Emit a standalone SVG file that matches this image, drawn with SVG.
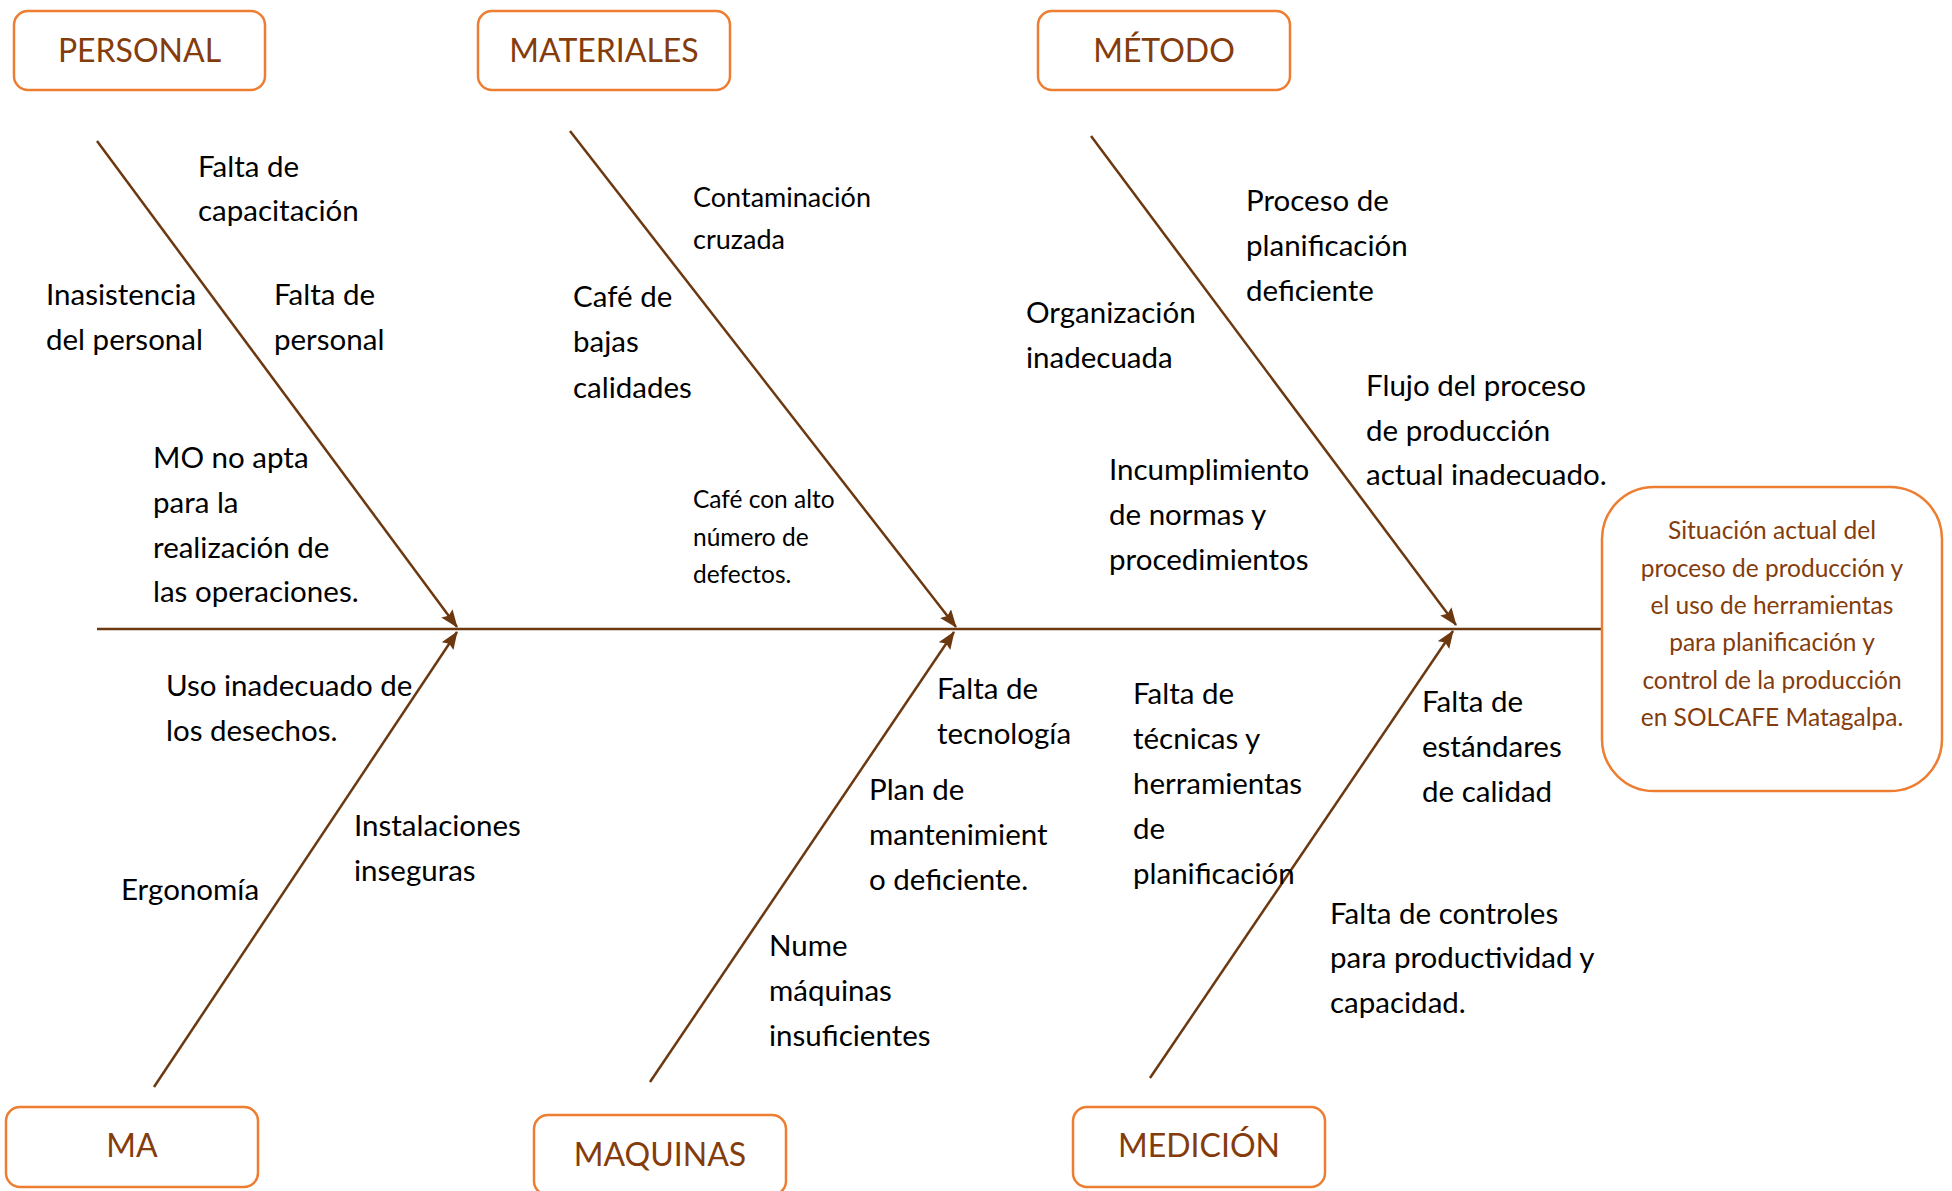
<svg xmlns="http://www.w3.org/2000/svg" width="1952" height="1191" viewBox="0 0 1952 1191">
<style>
.box{fill:#fff;stroke:#ED7D31;stroke-width:2.5}
.lbl{font-family:Lato,"Open Sans",sans-serif;font-size:32px;fill:#843C0C;text-anchor:middle}
.t{font-family:Lato,"Open Sans",sans-serif;font-size:29.5px;fill:#000}
.s{font-family:Lato,"Open Sans",sans-serif;font-size:27px;fill:#000}
.xs{font-family:Lato,"Open Sans",sans-serif;font-size:24.5px;fill:#000}
.c{font-family:Lato,"Open Sans",sans-serif;font-size:24.5px;fill:#843C0C;text-anchor:middle}
.ln{stroke:#6B3810;stroke-width:2.5;fill:none}
</style>
<defs>
<marker id="ah" markerUnits="userSpaceOnUse" markerWidth="20" markerHeight="16" refX="17" refY="7" orient="auto">
<path d="M0,0 L18,7 L0,14 L3,7 Z" fill="#6B3810"/>
</marker>
</defs>
<g id="connectors">
<line class="ln" x1="97" y1="629" x2="1602" y2="629"/>
<line class="ln" x1="97" y1="141" x2="457" y2="627" marker-end="url(#ah)"/>
<line class="ln" x1="154" y1="1087" x2="457" y2="632" marker-end="url(#ah)"/>
<line class="ln" x1="570" y1="131" x2="956" y2="627" marker-end="url(#ah)"/>
<line class="ln" x1="650" y1="1082" x2="954" y2="632" marker-end="url(#ah)"/>
<line class="ln" x1="1091" y1="136" x2="1456" y2="625" marker-end="url(#ah)"/>
<line class="ln" x1="1150" y1="1078" x2="1453" y2="631" marker-end="url(#ah)"/>
</g>
<g id="personal"><rect class="box" x="14" y="11" width="251" height="79" rx="14"/><text class="lbl" x="139.5" y="62">PERSONAL</text></g>
<g id="materiales"><rect class="box" x="478" y="11" width="252" height="79" rx="14"/><text class="lbl" x="604" y="62">MATERIALES</text></g>
<g id="metodo"><rect class="box" x="1038" y="11" width="252" height="79" rx="14"/><text class="lbl" x="1164" y="62">MÉTODO</text></g>
<g id="ma"><rect class="box" x="6" y="1107" width="252" height="80" rx="14"/><text class="lbl" x="132" y="1157">MA</text></g>
<g id="maquinas"><rect class="box" x="534" y="1115" width="252" height="80" rx="14"/><text class="lbl" x="660" y="1166">MAQUINAS</text></g>
<g id="medicion"><rect class="box" x="1073" y="1107" width="252" height="80" rx="14"/><text class="lbl" x="1199" y="1157">MEDICIÓN</text></g>
<g id="efecto"><rect class="box" x="1602" y="487" width="340" height="304" rx="52"/>
<text class="c" x="1772" y="539">Situación actual del</text>
<text class="c" x="1772" y="577">proceso de producción y</text>
<text class="c" x="1772" y="614">el uso de herramientas</text>
<text class="c" x="1772" y="651">para planificación y</text>
<text class="c" x="1772" y="689">control de la producción</text>
<text class="c" x="1772" y="726">en SOLCAFE Matagalpa.</text>
</g>
<g id="causas-personal">
<text class="t" x="198" y="177">Falta de</text><text class="t" x="198" y="221">capacitación</text>
<text class="t" x="46" y="305">Inasistencia</text><text class="t" x="46" y="350">del personal</text>
<text class="t" x="274" y="305">Falta de</text><text class="t" x="274" y="350">personal</text>
<text class="t" x="153" y="468">MO no apta</text><text class="t" x="153" y="513">para la</text><text class="t" x="153" y="558">realización de</text><text class="t" x="153" y="602">las operaciones.</text>
</g>
<g id="causas-ma">
<text class="t" x="166" y="696">Uso inadecuado de</text><text class="t" x="166" y="741">los desechos.</text>
<text class="t" x="354" y="836">Instalaciones</text><text class="t" x="354" y="881">inseguras</text>
<text class="t" x="121" y="900">Ergonomía</text>
</g>
<g id="causas-materiales">
<text class="s" x="693" y="207">Contaminación</text><text class="s" x="693" y="249">cruzada</text>
<text class="t" x="573" y="307">Café de</text><text class="t" x="573" y="352">bajas</text><text class="t" x="573" y="398">calidades</text>
<text class="xs" x="693" y="508">Café con alto</text><text class="xs" x="693" y="546">número de</text><text class="xs" x="693" y="583">defectos.</text>
</g>
<g id="causas-maquinas">
<text class="t" x="937" y="699">Falta de</text><text class="t" x="937" y="744">tecnología</text>
<text class="t" x="869" y="800">Plan de</text><text class="t" x="869" y="845">mantenimient</text><text class="t" x="869" y="890">o deficiente.</text>
<text class="t" x="769" y="956">Nume</text><text class="t" x="769" y="1001">máquinas</text><text class="t" x="769" y="1046">insuficientes</text>
</g>
<g id="causas-metodo">
<text class="t" x="1246" y="211">Proceso de</text><text class="t" x="1246" y="256">planificación</text><text class="t" x="1246" y="301">deficiente</text>
<text class="t" x="1026" y="323">Organización</text><text class="t" x="1026" y="368">inadecuada</text>
<text class="t" x="1366" y="396">Flujo del proceso</text><text class="t" x="1366" y="441">de producción</text><text class="t" x="1366" y="485">actual inadecuado.</text>
<text class="t" x="1109" y="480">Incumplimiento</text><text class="t" x="1109" y="525">de normas y</text><text class="t" x="1109" y="570">procedimientos</text>
</g>
<g id="causas-medicion">
<text class="t" x="1133" y="704">Falta de</text><text class="t" x="1133" y="749">técnicas y</text><text class="t" x="1133" y="794">herramientas</text><text class="t" x="1133" y="839">de</text><text class="t" x="1133" y="884">planificación</text>
<text class="t" x="1422" y="712">Falta de</text><text class="t" x="1422" y="757">estándares</text><text class="t" x="1422" y="802">de calidad</text>
<text class="t" x="1330" y="924">Falta de controles</text><text class="t" x="1330" y="968">para productividad y</text><text class="t" x="1330" y="1013">capacidad.</text>
</g>
</svg>
